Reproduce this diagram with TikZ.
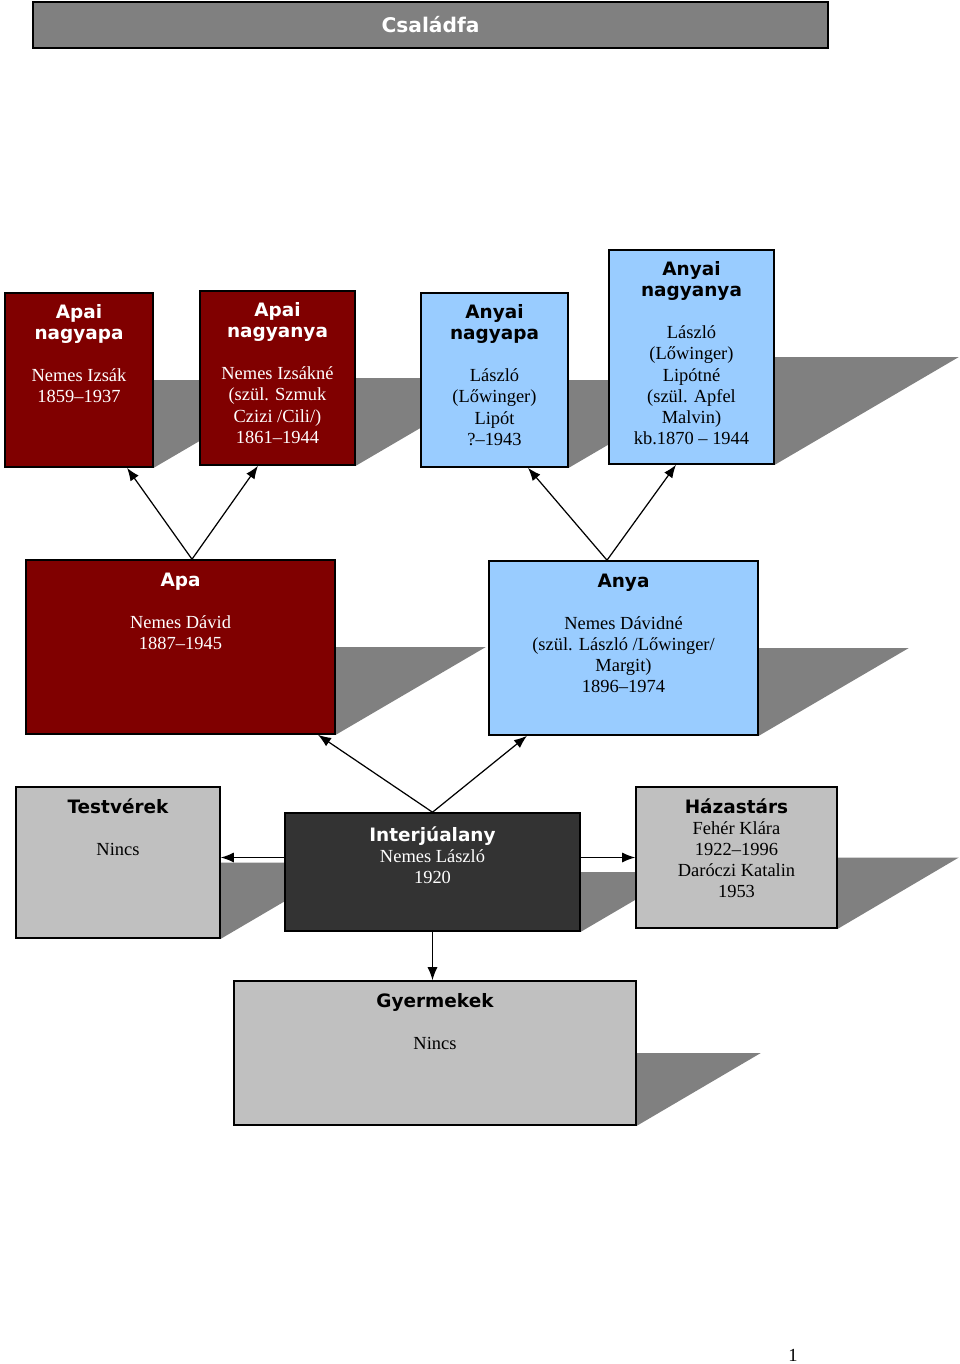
\documentclass[tikz,border=0pt]{standalone}
\usepackage{fontspec}
\setmainfont{Liberation Serif}
\newfontfamily\headfont{DejaVu Sans}
\usepackage{tikz}
\usetikzlibrary{arrows.meta}
\usetikzlibrary{calc}
\usetikzlibrary{backgrounds}

\definecolor{apared}{HTML}{800000}
\definecolor{anyablue}{HTML}{99CCFF}
\definecolor{boxgray}{HTML}{C0C0C0}
\definecolor{selfdark}{HTML}{333333}
\definecolor{shadowgray}{HTML}{808080}

\newcommand{\hd}[1]{{\headfont\bfseries #1}}

\begin{document}
\begin{tikzpicture}[x=0.2mm, y=-0.2mm,
        box_style/.style={rectangle,draw=black,line width=0.9pt,inner sep=0pt},
        red_box_style/.style={box_style,fill=apared},
        blue_box_style/.style={box_style,fill=anyablue},
        gray_box_style/.style={box_style,fill=boxgray},
        self_box_style/.style={box_style,fill=selfdark},
        text_style/.style={anchor=north,align=center,inner sep=0pt,font=\fontsize{10.5}{12}\selectfont},
        white_text_style/.style={text_style,text=white},
        shadow_style/.style={fill=shadowgray},
        edge_style/.style={draw=black,line width=0.7pt,-{Latex[length=2.6mm,width=2mm]}}]

        \useasboundingbox (0,0) rectangle (960,1364);

        % title
        \node [box_style,fill=shadowgray,minimum width=159mm,minimum height=9.2mm,text=white,font=\headfont\bfseries\fontsize{11.5}{13}\selectfont](title) at (430.5,25) {Családfa};

        % grandparents
        \node [red_box_style,minimum width=29.6mm,minimum height=34.8mm](b1) at (79,380) {};
        \node [white_text_style](t1) at ([yshift=-2.4mm]b1.north) {\hd{Apai}\\\hd{nagyapa}\\[12pt]Nemes Izsák\\1859–1937};

        \node [red_box_style,minimum width=31mm,minimum height=34.8mm](b2) at (277.5,378) {};
        \node [white_text_style](t2) at ([yshift=-2.4mm]b2.north) {\hd{Apai}\\\hd{nagyanya}\\[12pt]Nemes Izsákné\\(szül. Szmuk\\Czizi /Cili/)\\1861–1944};

        \node [blue_box_style,minimum width=29.4mm,minimum height=34.8mm](b3) at (494.5,380) {};
        \node [text_style](t3) at ([yshift=-2.4mm]b3.north) {\hd{Anyai}\\\hd{nagyapa}\\[12pt]László\\(Lőwinger)\\Lipót\\?–1943};

        \node [blue_box_style,minimum width=33mm,minimum height=42.8mm](b4) at (691.5,357) {};
        \node [text_style](t4) at ([yshift=-2.4mm]b4.north) {\hd{Anyai}\\\hd{nagyanya}\\[12pt]László\\(Lőwinger)\\Lipótné\\(szül. Apfel\\Malvin)\\kb.1870 – 1944};

        % parents
        \node [red_box_style,minimum width=61.8mm,minimum height=34.8mm](apa) at (180.5,647) {};
        \node [white_text_style](tapa) at ([yshift=-2.6mm]apa.north) {\hd{Apa}\\[12pt]Nemes Dávid\\1887–1945};

        \node [blue_box_style,minimum width=53.8mm,minimum height=34.8mm](anya) at (623.5,648) {};
        \node [text_style](tanya) at ([yshift=-2.6mm]anya.north) {\hd{Anya}\\[12pt]Nemes Dávidné\\(szül. László /Lőwinger/\\Margit)\\1896–1974};

        % interviewee row
        \node [gray_box_style,minimum width=40.8mm,minimum height=30.2mm](testverek) at (118,862.5) {};
        \node [text_style](ttestverek) at ([yshift=-2.4mm]testverek.north) {\hd{Testvérek}\\[12pt]Nincs};

        \node [self_box_style,minimum width=59mm,minimum height=23.6mm](interju) at (432.5,872) {};
        \node [white_text_style](tinterju) at ([yshift=-2.8mm]interju.north) {\hd{Interjúalany}\\Nemes László\\1920};

        \node [gray_box_style,minimum width=40.2mm,minimum height=28.2mm](hazastars) at (736.5,857.5) {};
        \node [text_style](thazastars) at ([yshift=-2.4mm]hazastars.north) {\hd{Házastárs}\\Fehér Klára\\1922–1996\\Daróczi Katalin\\1953};

        % children
        \node [gray_box_style,minimum width=80.4mm,minimum height=28.8mm](gyermekek) at (435,1053) {};
        \node [text_style](tgyermekek) at ([yshift=-2.6mm]gyermekek.north) {\hd{Gyermekek}\\[12pt]Nincs};

        % page number
        \node [text_style,anchor=center](page) at (793,1355) {1};

        % shadows
        \begin{pgfonlayer}{background}
        \foreach \n/\d in {b1/150,b2/150,b3/150,b4/184,apa/150,anya/150,testverek/130,interju/102,hazastars/121,gyermekek/124}
            \fill [shadow_style] (\n.east) -- ++(\d,0) -- (\n.south east) -- cycle;
        \end{pgfonlayer}

        % edges
        \draw [edge_style] ([xshift=2.3mm]apa.north) -- ([xshift=9.6mm]b1.south);
        \draw [edge_style] ([xshift=2.3mm]apa.north) -- ([xshift=-3.9mm]b2.south);
        \draw [edge_style] ([xshift=-3.3mm]anya.north) -- ([xshift=6.7mm]b3.south);
        \draw [edge_style] ([xshift=-3.3mm]anya.north) -- ([xshift=-3.1mm]b4.south);
        \draw [edge_style] (interju.north) -- ([xshift=27.5mm]apa.south);
        \draw [edge_style] (interju.north) -- ([xshift=-19.3mm]anya.south);
        \draw [edge_style] (interju.west |- hazastars.west) -- (testverek.east |- hazastars.west);
        \draw [edge_style] (interju.east |- hazastars.west) -- (hazastars.west);
        \draw [edge_style] (interju.south) -- (interju.south |- gyermekek.north);

\end{tikzpicture}
\end{document}
